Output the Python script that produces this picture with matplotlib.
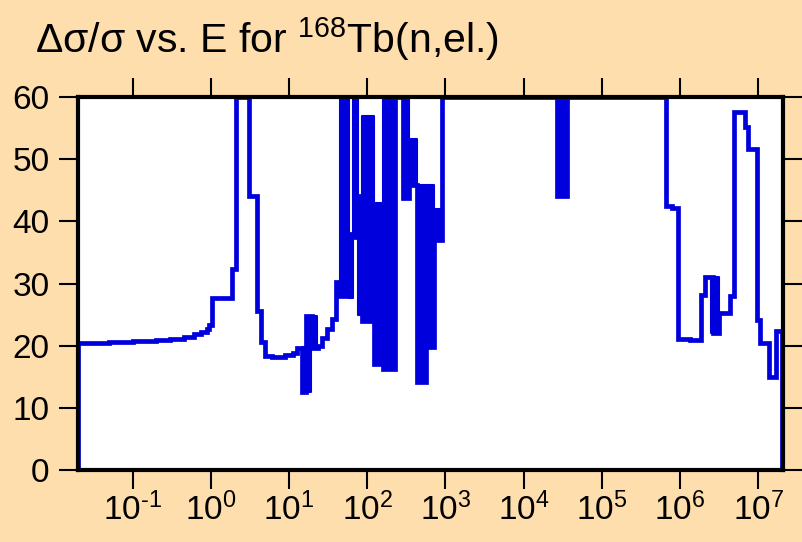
import numpy as np
import matplotlib
matplotlib.use("Agg")
from matplotlib import pyplot as plt
from matplotlib import ticker

plt.rcParams["font.family"] = ["Liberation Sans", "DejaVu Sans"]
plt.rcParams["mathtext.fontset"] = "custom"
plt.rcParams["mathtext.rm"] = "Liberation Sans"
plt.rcParams["mathtext.it"] = "Liberation Sans"
plt.rcParams["mathtext.default"] = "regular"

# step curve: energy edges [eV] and relative uncertainty [%] from that edge on
energy = [0.02, 0.02, 0.05, 0.1, 0.2, 0.3, 0.45, 0.6, 0.75, 0.88, 0.95,
          1.03, 1.86, 2.09, 3.06, 3.87, 4.36, 4.9, 6.0, 9.0, 11.2, 12.6,
          14.6, 16.4, 19.5, 23.4, 26.3, 30.4, 35.3, 39.7,
          44.6, 58.2, 65.5, 75.8, 85.3, 121, 158, 225, 285, 340, 427, 557,
          717, 891, 2.66e4, 3.55e4, 6.58e5, 7.8e5, 9.46e5, 1.33e6, 1.83e6,
          2.07e6, 2.6e6, 3.1e6, 4.34e6, 4.9e6, 6.75e6, 7.36e6, 9.5e6,
          1.05e7, 1.37e7, 1.68e7, 1.99e7, 2.1e7]
rel_err = [0, 20.5, 20.6, 20.7, 20.9, 21.1, 21.4, 21.8, 22.2, 22.7, 23.3,
           27.6, 32.3, 60, 44, 25.6, 20.6, 18.4, 18.2, 18.5, 18.9, 19.7,
           12.6, 24.7, 19.6, 20.0, 21.2, 22.7, 24.3, 30.3,
           28, 38, 37.5, 44, 24, 17, 16.3, 60, 43.7, 45.8, 14.2, 19.8,
           37, 60, 44, 60, 42.5, 42.1, 21.1, 20.9, 28.1,
           31.1, 22, 25.3, 28, 57.6, 55.2, 51.6, 24.1,
           20.4, 15, 22.4, 0, 0]

# densely oscillating resonance regions (drawn solid)
band_e0 = [14.6, 16.4, 44.6, 58.2, 65.5, 75.8, 85.3, 121, 158, 285, 340,
           427, 557, 717, 2.66e4, 2.5e6]
band_e1 = [19.0, 22.5, 58.2, 65.5, 75.8, 85.3, 121, 158, 225, 340, 427,
           557, 717, 891, 3.55e4, 3.1e6]
band_lo = [12.6, 19.8, 28, 27.6, 37.5, 25, 24, 17, 16.3, 43.7, 45.8,
           14.2, 19.8, 37, 44, 22]
band_hi = [19.8, 24.7, 60, 38, 60, 44, 57, 43, 60, 60, 53.3,
           45.8, 45.8, 42, 60, 31]

x_ticks = [1e-1, 1e0, 1e1, 1e2, 1e3, 1e4, 1e5, 1e6, 1e7]

bg = "#FFDEAD"
blue = "#0000dd"

fig = plt.figure(figsize=(8.02, 5.42), dpi=100, facecolor=bg)
ax = fig.add_axes([78 / 802, 1 - 470 / 542, 705 / 802, 373 / 542])
ax.set_facecolor("white")

ax.plot(energy, rel_err, drawstyle="steps-post", color=blue, lw=3.4,
        solid_joinstyle="miter")
for e0, e1, lo, hi in zip(band_e0, band_e1, band_lo, band_hi):
    ax.fill_between([e0, e1], [lo, lo], [hi, hi], color=blue, lw=1.5)

ax.set_xscale("log")
ax.set_xlim(0.02, 2.07e7)
ax.set_ylim(0, 60)
ax.xaxis.set_major_locator(ticker.FixedLocator(x_ticks))
ax.xaxis.set_minor_locator(ticker.NullLocator())
ax.xaxis.set_major_formatter(ticker.FuncFormatter(
    lambda v, pos: r"$10^{\text{%d}}$" % round(np.log10(v))))
ax.yaxis.set_major_locator(ticker.MultipleLocator(10))

for s in ax.spines.values():
    s.set_linewidth(3)
ax.tick_params(which="major", direction="out", length=13.5, width=1.5,
               labelsize=24, top=True, right=True, color="black")
ax.tick_params(axis="y", pad=7)
ax.tick_params(axis="x", pad=3)

fig.text(35 / 802, 1 - 53 / 542, r"Δσ/σ vs. E for $^{168}$Tb(n,el.)",
         fontsize=29.5, va="baseline", ha="left")

fig.savefig("out.png", dpi=100, facecolor=bg)
